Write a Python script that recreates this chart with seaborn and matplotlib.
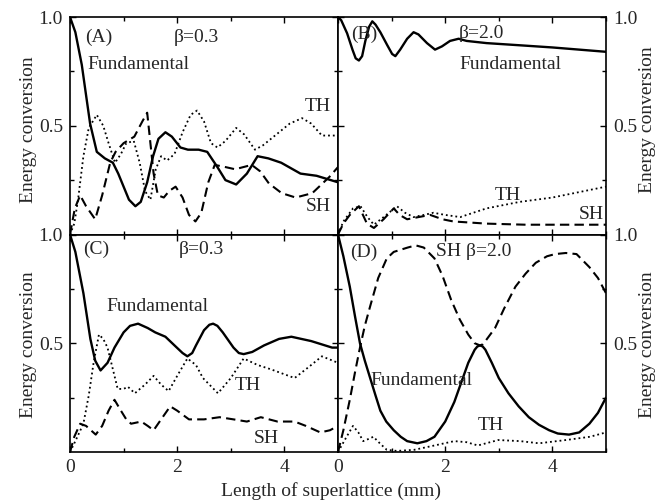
import numpy as np
import pandas as pd
import matplotlib
matplotlib.use("Agg")
import matplotlib.pyplot as plt
import seaborn as sns

# ---- data (x in mm, y = energy conversion) ----
# (A) beta = 0.3
a_fund_x = [0, 0.1, 0.22, 0.3, 0.375, 0.5, 0.65, 0.8, 0.9, 1.0, 1.1, 1.22, 1.32, 1.44, 1.55, 1.65, 1.78, 1.9, 2.06, 2.2, 2.4, 2.56, 2.75, 2.9, 3.1, 3.3, 3.5, 3.7, 3.94, 4.3, 4.6, 5.0]
a_fund_y = [1.0, 0.93, 0.78, 0.64, 0.51, 0.38, 0.35, 0.33, 0.28, 0.22, 0.16, 0.13, 0.15, 0.24, 0.36, 0.44, 0.47, 0.45, 0.40, 0.39, 0.39, 0.38, 0.31, 0.25, 0.23, 0.28, 0.36, 0.35, 0.33, 0.28, 0.27, 0.24]
a_th_x = [0, 0.08, 0.15, 0.25, 0.35, 0.5, 0.62, 0.72, 0.84, 0.95, 1.05, 1.19, 1.3, 1.4, 1.5, 1.6, 1.7, 1.81, 1.95, 2.1, 2.25, 2.37, 2.5, 2.63, 2.75, 2.9, 3.1, 3.25, 3.45, 3.6, 3.9, 4.1, 4.33, 4.5, 4.7, 5.0]
a_th_y = [0.0, 0.05, 0.16, 0.36, 0.49, 0.55, 0.50, 0.42, 0.33, 0.37, 0.42, 0.43, 0.33, 0.20, 0.16, 0.30, 0.36, 0.34, 0.37, 0.47, 0.55, 0.57, 0.52, 0.42, 0.40, 0.43, 0.49, 0.46, 0.39, 0.41, 0.47, 0.51, 0.535, 0.51, 0.455, 0.455]
a_sh_x = [0, 0.09, 0.19, 0.3, 0.47, 0.6, 0.75, 0.85, 1.0, 1.2, 1.35, 1.44, 1.5, 1.56, 1.64, 1.75, 1.85, 1.97, 2.1, 2.22, 2.34, 2.45, 2.58, 2.7, 2.9, 3.08, 3.39, 3.55, 3.71, 3.95, 4.21, 4.52, 4.84, 5.0]
a_sh_y = [0, 0.12, 0.18, 0.13, 0.07, 0.18, 0.33, 0.38, 0.42, 0.45, 0.52, 0.56, 0.42, 0.28, 0.18, 0.17, 0.20, 0.22, 0.17, 0.09, 0.06, 0.10, 0.24, 0.32, 0.31, 0.30, 0.32, 0.29, 0.235, 0.19, 0.17, 0.19, 0.265, 0.31]

# (B) beta = 2.0
b_fund_x = [0, 0.06, 0.17, 0.27, 0.33, 0.39, 0.45, 0.51, 0.58, 0.64, 0.70, 0.79, 0.92, 1.01, 1.07, 1.16, 1.29, 1.41, 1.5, 1.66, 1.81, 1.94, 2.09, 2.25, 2.4, 2.77, 3.39, 4.0, 5.0]
b_fund_y = [1.0, 0.985, 0.925, 0.85, 0.81, 0.80, 0.82, 0.89, 0.955, 0.98, 0.965, 0.93, 0.87, 0.83, 0.82, 0.85, 0.90, 0.93, 0.92, 0.88, 0.85, 0.865, 0.89, 0.90, 0.89, 0.88, 0.87, 0.86, 0.84]
b_th_x = [0, 0.1, 0.28, 0.42, 0.55, 0.67, 0.85, 1.1, 1.25, 1.41, 1.6, 1.78, 2.0, 2.28, 2.77, 3.39, 4.0, 5.0]
b_th_y = [0, 0.06, 0.12, 0.13, 0.08, 0.045, 0.08, 0.13, 0.10, 0.08, 0.09, 0.10, 0.09, 0.08, 0.12, 0.15, 0.17, 0.22]
b_sh_x = [0, 0.1, 0.22, 0.39, 0.54, 0.67, 0.85, 1.04, 1.15, 1.29, 1.5, 1.72, 1.95, 2.15, 2.77, 3.5, 5.0]
b_sh_y = [0, 0.05, 0.09, 0.13, 0.05, 0.03, 0.07, 0.12, 0.09, 0.07, 0.08, 0.09, 0.07, 0.06, 0.05, 0.045, 0.045]

# (C) beta = 0.3
c_fund_x = [0, 0.1, 0.25, 0.38, 0.47, 0.57, 0.7, 0.83, 1.0, 1.12, 1.27, 1.45, 1.59, 1.78, 1.95, 2.1, 2.19, 2.28, 2.35, 2.5, 2.6, 2.67, 2.75, 2.85, 3.05, 3.15, 3.24, 3.4, 3.62, 3.9, 4.13, 4.5, 4.89, 5.0]
c_fund_y = [1.0, 0.92, 0.73, 0.52, 0.42, 0.375, 0.41, 0.48, 0.55, 0.58, 0.59, 0.57, 0.55, 0.53, 0.49, 0.455, 0.44, 0.455, 0.49, 0.56, 0.585, 0.59, 0.58, 0.55, 0.48, 0.455, 0.45, 0.46, 0.49, 0.52, 0.53, 0.51, 0.48, 0.48]
c_th_x = [0, 0.1, 0.25, 0.35, 0.44, 0.54, 0.62, 0.70, 0.8, 0.89, 1.0, 1.08, 1.21, 1.4, 1.56, 1.7, 1.84, 2.0, 2.19, 2.35, 2.48, 2.76, 3.0, 3.24, 3.5, 3.75, 4.19, 4.45, 4.7, 5.0]
c_th_y = [0, 0.05, 0.13, 0.26, 0.41, 0.54, 0.52, 0.48, 0.38, 0.29, 0.29, 0.30, 0.27, 0.31, 0.35, 0.31, 0.28, 0.35, 0.43, 0.40, 0.34, 0.27, 0.34, 0.43, 0.40, 0.38, 0.34, 0.39, 0.44, 0.41]
c_sh_x = [0, 0.08, 0.19, 0.3, 0.48, 0.6, 0.72, 0.83, 0.95, 1.05, 1.14, 1.33, 1.45, 1.56, 1.7, 1.87, 2.0, 2.22, 2.5, 2.79, 3.05, 3.3, 3.56, 3.87, 4.19, 4.4, 4.67, 4.85, 5.0]
c_sh_y = [0, 0.07, 0.13, 0.12, 0.08, 0.12, 0.19, 0.24, 0.19, 0.15, 0.13, 0.14, 0.12, 0.10, 0.15, 0.21, 0.19, 0.15, 0.15, 0.16, 0.15, 0.14, 0.16, 0.14, 0.14, 0.12, 0.09, 0.10, 0.12]

# (D) beta = 2.0
d_fund_x = [0, 0.1, 0.22, 0.32, 0.41, 0.5, 0.6, 0.7, 0.79, 0.9, 1.04, 1.17, 1.29, 1.48, 1.65, 1.8, 2.0, 2.17, 2.3, 2.43, 2.55, 2.6, 2.65, 2.7, 2.75, 2.87, 3.0, 3.18, 3.37, 3.56, 3.75, 3.94, 4.1, 4.31, 4.5, 4.69, 4.85, 5.0]
d_fund_y = [1.0, 0.90, 0.76, 0.62, 0.50, 0.42, 0.34, 0.26, 0.19, 0.14, 0.10, 0.07, 0.05, 0.04, 0.05, 0.07, 0.14, 0.23, 0.32, 0.41, 0.47, 0.485, 0.49, 0.485, 0.47, 0.41, 0.34, 0.27, 0.21, 0.16, 0.125, 0.10, 0.085, 0.08, 0.09, 0.13, 0.18, 0.25]
d_sh_x = [0, 0.1, 0.22, 0.32, 0.41, 0.5, 0.6, 0.75, 0.91, 1.04, 1.17, 1.3, 1.45, 1.6, 1.8, 1.95, 2.11, 2.27, 2.43, 2.55, 2.6, 2.65, 2.7, 2.75, 2.93, 3.1, 3.31, 3.5, 3.69, 3.9, 4.05, 4.25, 4.45, 4.69, 4.85, 5.0]
d_sh_y = [0, 0.10, 0.24, 0.37, 0.48, 0.58, 0.67, 0.80, 0.89, 0.92, 0.93, 0.94, 0.95, 0.94, 0.89, 0.81, 0.70, 0.61, 0.54, 0.50, 0.495, 0.49, 0.495, 0.51, 0.57, 0.66, 0.76, 0.82, 0.87, 0.90, 0.91, 0.915, 0.91, 0.85, 0.80, 0.73]
d_th_x = [0, 0.16, 0.28, 0.38, 0.47, 0.57, 0.66, 0.78, 0.91, 1.1, 1.42, 1.8, 2.17, 2.4, 2.61, 2.99, 3.4, 3.75, 4.25, 4.7, 5.0]
d_th_y = [0, 0.07, 0.12, 0.09, 0.05, 0.06, 0.07, 0.04, 0.01, 0.005, 0.01, 0.03, 0.05, 0.045, 0.03, 0.055, 0.05, 0.04, 0.055, 0.07, 0.09]

x_ticks = [0, 2, 4]
y_ticks = [0.5, 1.0]
y_ticklabels = ["0.5", "1.0"]

sns.set_style("ticks")
plt.rcParams["font.family"] = ["Liberation Serif", "DejaVu Serif"]

fig, axes = plt.subplots(2, 2, figsize=(6.61, 5.04), dpi=100)
fig.subplots_adjust(left=70/661, right=606/661, top=1-17/504, bottom=1-452/504, hspace=0, wspace=0)

panels = {
    (0, 0): (a_fund_x, a_fund_y, a_sh_x, a_sh_y, a_th_x, a_th_y),
    (0, 1): (b_fund_x, b_fund_y, b_sh_x, b_sh_y, b_th_x, b_th_y),
    (1, 0): (c_fund_x, c_fund_y, c_sh_x, c_sh_y, c_th_x, c_th_y),
    (1, 1): (d_fund_x, d_fund_y, d_sh_x, d_sh_y, d_th_x, d_th_y),
}

for (r, c), (fx, fy, sx, sy, tx, ty) in panels.items():
    ax = axes[r, c]
    sns.lineplot(x=tx, y=ty, ax=ax, color="k", linestyle=":", lw=1.3, estimator=None)
    sns.lineplot(x=sx, y=sy, ax=ax, color="k", linestyle=(0, (4.5, 2.5)), lw=1.5,
                 estimator=None, dash_joinstyle="round")
    sns.lineplot(x=fx, y=fy, ax=ax, color="k", linestyle="-", lw=1.7,
                 estimator=None, solid_joinstyle="round")
    ax.set_xlim(0, 5)
    ax.set_ylim(0, 1)
    ax.set_xticks(x_ticks)
    ax.set_xticks([1, 3, 5], minor=True)
    ax.set_yticks(y_ticks)
    ax.set_yticks([0.25, 0.75], minor=True)
    ax.set_yticklabels(y_ticklabels)
    ax.set_xlabel("")
    ax.set_ylabel("")
    ax.tick_params(which="both", direction="in", top=True, right=True, left=True, bottom=True,
                   labelsize=14, width=1, color="k")
    ax.tick_params(which="major", length=4, pad=5)
    ax.tick_params(which="minor", length=3)
    ax.tick_params(labelbottom=(r == 1), labelleft=(c == 0), labelright=(c == 1))
    for s in ax.spines.values():
        s.set_linewidth(1.2)
        s.set_color("k")

fs = 14
ax = axes[0, 0]
ax.text(0.28, 0.905, "(A)", fontsize=fs, va="center")
ax.text(1.94, 0.905, "β=0.3", fontsize=fs, va="center")
ax.text(0.33, 0.78, "Fundamental", fontsize=fs, va="center")
ax.text(4.38, 0.59, "TH", fontsize=fs, va="center")
ax.text(4.40, 0.13, "SH", fontsize=fs, va="center")

ax = axes[0, 1]
ax.text(0.24, 0.92, "(B)", fontsize=fs, va="center")
ax.text(2.25, 0.925, "β=2.0", fontsize=fs, va="center")
ax.text(2.26, 0.78, "Fundamental", fontsize=fs, va="center")
ax.text(2.93, 0.18, "TH", fontsize=fs, va="center")
ax.text(4.50, 0.09, "SH", fontsize=fs, va="center")

ax = axes[1, 0]
ax.text(0.25, 0.93, "(C)", fontsize=fs, va="center")
ax.text(2.03, 0.93, "β=0.3", fontsize=fs, va="center")
ax.text(0.67, 0.67, "Fundamental", fontsize=fs, va="center")
ax.text(3.08, 0.305, "TH", fontsize=fs, va="center")
ax.text(3.43, 0.06, "SH", fontsize=fs, va="center")

ax = axes[1, 1]
ax.text(0.22, 0.92, "(D)", fontsize=fs, va="center")
ax.text(1.83, 0.92, "SH β=2.0", fontsize=fs, va="center")
ax.text(0.60, 0.33, "Fundamental", fontsize=fs, va="center")
ax.text(2.61, 0.12, "TH", fontsize=fs, va="center")

fig.text(29/661, 1-130/504, "Energy conversion", rotation=90, ha="center", va="center", fontsize=fs)
fig.text(29/661, 1-345/504, "Energy conversion", rotation=90, ha="center", va="center", fontsize=fs)
fig.text(648/661, 1-120/504, "Energy conversion", rotation=90, ha="center", va="center", fontsize=fs)
fig.text(648/661, 1-345/504, "Energy conversion", rotation=90, ha="center", va="center", fontsize=fs)
fig.text(331/661, 1-491/504, "Length of superlattice (mm)", ha="center", va="center", fontsize=fs)

fig.savefig("out.png", dpi=100)
